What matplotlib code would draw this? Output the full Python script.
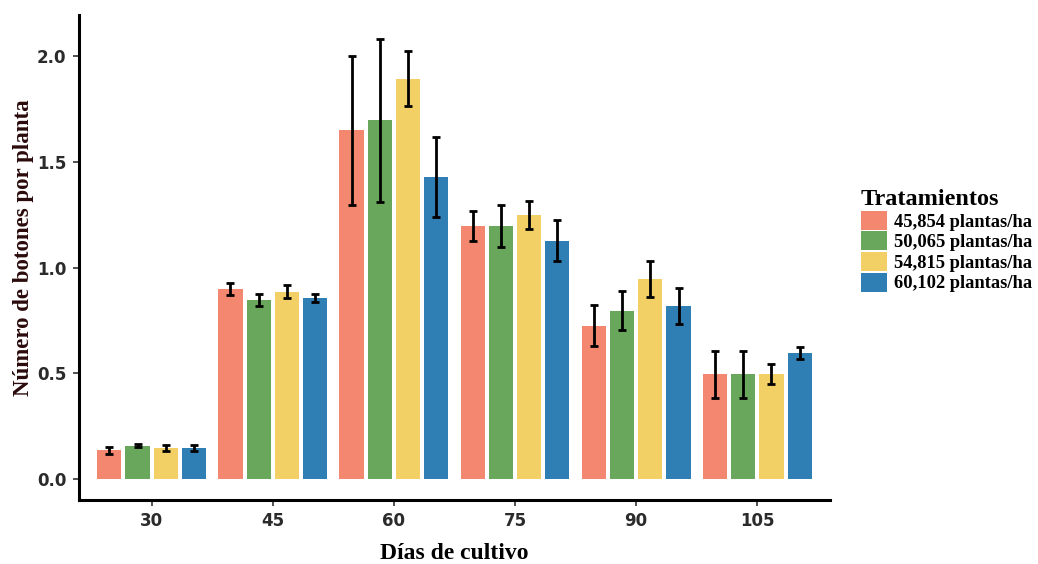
import matplotlib
matplotlib.use("Agg")
import matplotlib.pyplot as plt
import numpy as np
from matplotlib.patches import Patch

dias = ["30", "45", "60", "75", "90", "105"]
tratamientos = ["45,854 plantas/ha", "50,065 plantas/ha", "54,815 plantas/ha", "60,102 plantas/ha"]
colores = ["#F4876F", "#69A85C", "#F3D066", "#2F7FB5"]

t1 = [0.135, 0.897, 1.65, 1.196, 0.725, 0.495]
t2 = [0.157, 0.846, 1.697, 1.196, 0.796, 0.495]
t3 = [0.146, 0.886, 1.894, 1.248, 0.946, 0.495]
t4 = [0.146, 0.857, 1.43, 1.127, 0.818, 0.597]

e1 = [0.017, 0.028, 0.352, 0.07, 0.097, 0.112]
e2 = [0.008, 0.027, 0.386, 0.1, 0.092, 0.112]
e3 = [0.016, 0.032, 0.13, 0.065, 0.084, 0.047]
e4 = [0.016, 0.02, 0.19, 0.097, 0.085, 0.029]

valores = [t1, t2, t3, t4]
errores = [e1, e2, e3, e4]

fig = plt.figure(figsize=(10.38, 5.64), dpi=100)
ax = fig.add_axes([0.0761, 0.1135, 0.7235, 0.8595])

x = np.arange(1, len(dias) + 1)
pitch = 0.233
bw = 0.2
for i, (v, e, c) in enumerate(zip(valores, errores, colores)):
    pos = x + (i - 1.5) * pitch
    ax.bar(pos, v, width=bw, color=c, edgecolor="none", zorder=2)
    ax.errorbar(pos, v, yerr=e, fmt="none", ecolor="black", elinewidth=2.0,
                capsize=2.8, capthick=2.0, zorder=3)

ax.set_xlim(0.4, 6.6)
ax.set_ylim(-0.1, 2.194)
ax.set_xticks(x)
ax.set_xticklabels(dias)
ax.set_yticks([0.0, 0.5, 1.0, 1.5, 2.0])
ax.set_yticklabels(["0.0", "0.5", "1.0", "1.5", "2.0"])
for lab in ax.get_xticklabels() + ax.get_yticklabels():
    lab.set_fontweight("bold")
    lab.set_fontsize(12)
    lab.set_color("#2b2b2b")
    lab.set_family("DejaVu Sans")
ax.tick_params(axis="both", length=4, width=1.2, color="#333333", pad=5)

for s in ["top", "right"]:
    ax.spines[s].set_visible(False)
for s in ["left", "bottom"]:
    ax.spines[s].set_linewidth(2.2)
    ax.spines[s].set_color("black")

ax.set_ylabel("Número de botones por planta", family="Liberation Serif",
              fontweight="bold", fontsize=16.5, color="#2a0a0a")
ax.yaxis.set_label_coords(-0.06, 0.52)
ax.set_xlabel("Días de cultivo", family="Liberation Serif",
              fontweight="bold", fontsize=17, color="black", labelpad=9)

handles = [Patch(facecolor=c, edgecolor="none") for c in colores]
leg = fig.legend(handles, tratamientos, loc="upper left",
                 bbox_to_anchor=(0.829, 0.665), frameon=False,
                 title="Tratamientos",
                 prop={"family": "Liberation Serif", "weight": "bold", "size": 13.3},
                 title_fontproperties={"family": "Liberation Serif", "weight": "bold", "size": 17.5},
                 handlelength=1.45, handleheight=1.2, handletextpad=0.35,
                 labelspacing=0.05, borderaxespad=0, borderpad=0)
leg._legend_box.align = "left"

fig.savefig("out.png", dpi=100)
